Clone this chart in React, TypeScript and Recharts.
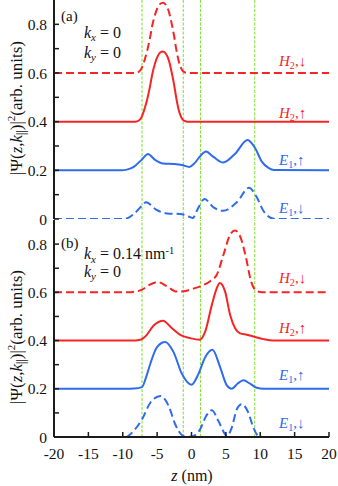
import React from 'react';
import { LineChart, Line, XAxis, YAxis, ReferenceLine } from 'recharts';

// ---------- data ----------
const xTicks = [-20, -15, -10, -5, 0, 5, 10, 15, 20];
const yTicks = [0, 0.1, 0.2, 0.3, 0.4, 0.5, 0.6, 0.7, 0.8];
const barrierLines = [-7.2, -1.2, 1.3, 9.2];

// panel (a): kx = 0, ky = 0
const zA_H2 = [-20, -8.2, -7.6, -7.16, -6.8, -6.43, -6.0, -5.7, -5.3, -4.98, -4.6, -4.15, -3.7, -3.28, -2.9, -2.55, -2.2, -1.83, -1.55, -1.35, -1.0, -0.6, 20];
const vA_H2dn = [0.6, 0.6, 0.606, 0.625, 0.655, 0.693, 0.75, 0.796, 0.84, 0.865, 0.883, 0.889, 0.879, 0.851, 0.805, 0.755, 0.695, 0.645, 0.622, 0.611, 0.603, 0.6, 0.6];
const vA_H2up = [0.4, 0.4, 0.406, 0.425, 0.455, 0.493, 0.55, 0.596, 0.64, 0.665, 0.683, 0.688, 0.678, 0.651, 0.605, 0.555, 0.495, 0.445, 0.422, 0.411, 0.403, 0.4, 0.4];
const zA_E1up = [-20, -10.2, -9.4, -8.4, -7.2, -6.33, -5.3, -4.1, -2.6, -1.4, -0.3, 0.4, 1.26, 2.1, 3.2, 4.6, 6.34, 8.15, 9.25, 10.2, 11.2, 12, 20];
const vA_E1up = [0.2, 0.2, 0.203, 0.214, 0.245, 0.267, 0.243, 0.228, 0.226, 0.222, 0.214, 0.228, 0.258, 0.277, 0.255, 0.232, 0.268, 0.325, 0.292, 0.237, 0.21, 0.201, 0.2];
const zA_E1dn = [-20, -9.8, -9.0, -8.4, -7.2, -6.6, -5.27, -3.57, -1.64, -0.43, 0.2, 0.78, 1.9, 3.2, 4.6, 6.6, 8.35, 9.5, 10.45, 11.5, 12.3, 20];
const vA_E1dn = [0, 0, 0.008, 0.02, 0.055, 0.069, 0.041, 0.023, 0.021, 0.01, 0.004, 0.034, 0.082, 0.048, 0.034, 0.069, 0.128, 0.089, 0.034, 0.005, 0, 0];

// panel (b): kx = 0.14 nm^-1, ky = 0
const zB_H2dn = [-20, -9.4, -8.17, -7.2, -6.24, -4.93, -3.57, -2.12, -1.16, 0.06, 1.26, 2.71, 3.68, 4.65, 5.62, 6.34, 7.17, 7.94, 8.66, 9.25, 10.2, 20];
const vB_H2dn = [0.6, 0.6, 0.603, 0.611, 0.629, 0.643, 0.625, 0.603, 0.604, 0.614, 0.625, 0.646, 0.673, 0.756, 0.839, 0.856, 0.825, 0.742, 0.646, 0.611, 0.6, 0.6];
const zB_H2up = [-20, -8.2, -7.45, -6.72, -5.5, -4.15, -2.85, -1.64, -0.19, 1.16, 1.99, 2.96, 3.68, 4.1, 4.89, 5.62, 6.34, 7.07, 8.04, 9.0, 10.45, 11.9, 20];
const vB_H2up = [0.4, 0.4, 0.403, 0.417, 0.462, 0.482, 0.451, 0.424, 0.41, 0.403, 0.437, 0.548, 0.617, 0.639, 0.603, 0.506, 0.451, 0.43, 0.424, 0.417, 0.406, 0.4, 0.4];
const zB_E1up = [-20, -9.5, -8.42, -7.2, -6.6, -5.99, -5.02, -3.82, -2.61, -1.4, 0.0, 1.02, 1.99, 3.05, 4.16, 5.14, 5.86, 6.68, 7.55, 8.52, 9.49, 10.5, 20];
const vB_E1up = [0.2, 0.2, 0.201, 0.207, 0.248, 0.304, 0.373, 0.394, 0.352, 0.262, 0.217, 0.262, 0.331, 0.362, 0.29, 0.214, 0.2, 0.221, 0.235, 0.221, 0.204, 0.2, 0.2];
const zB_E1dn = [-20, -9.6, -8.42, -7.2, -5.99, -4.5, -3.33, -2.37, -1.4, -0.67, 0.29, 1.26, 2.13, 2.96, 3.92, 4.89, 5.14, 5.86, 6.59, 7.31, 8.27, 9.0, 9.73, 10.4, 20];
const vB_E1dn = [0, 0, 0.025, 0.073, 0.142, 0.17, 0.129, 0.053, 0.008, 0, 0.004, 0.032, 0.087, 0.111, 0.066, 0.011, 0.003, 0.039, 0.115, 0.136, 0.101, 0.039, 0.004, 0, 0];

const toPts = (zs: number[], vs: number[]) => zs.map((z, i) => ({ z, v: vs[i] }));

// ---------- style ----------
const RED = '#f52525';
const BLUE = '#2f6cec';
const GREEN = '#7fdd2f';
const FRAME = '#1c1c1c';
const SERIF = '"Liberation Serif", "Times New Roman", Times, serif';
const W = 338;

const fmtY = (v: number) => {
  const r = Math.round(v * 10);
  if (r % 2 !== 0) return '';
  return r === 0 ? '0' : v.toFixed(1);
};

const tickFont = { fontFamily: SERIF, fontSize: 15.5, fill: '#111' };

type Series = { pts: { z: number; v: number }[]; color: string; dashed: boolean };

function Panel({ series, height, margin, showX }: { series: Series[]; height: number; margin: any; showX: boolean }) {
  return (
    <LineChart width={W} height={height} margin={margin} style={{ fontFamily: SERIF }}>
      <XAxis
        xAxisId={0}
        dataKey="z"
        type="number"
        domain={[-20, 20]}
        ticks={xTicks}
        allowDataOverflow
        height={showX ? 30 : 0}
        axisLine={{ stroke: FRAME, strokeWidth: 2 }}
        tickLine={{ stroke: FRAME, strokeWidth: 1.5 }}
        tickSize={-5}
        tickMargin={showX ? 16 : 0}
        tick={showX ? tickFont : false}
        interval={0}
      />
      <XAxis
        xAxisId="top"
        orientation="top"
        dataKey="z"
        type="number"
        domain={[-20, 20]}
        ticks={xTicks}
        height={0}
        axisLine={{ stroke: FRAME, strokeWidth: 2 }}
        tickLine={{ stroke: FRAME, strokeWidth: 1.5 }}
        tickSize={-5}
        tick={false}
        interval={0}
      />
      <YAxis
        yAxisId={0}
        type="number"
        domain={[0, 0.9]}
        ticks={yTicks}
        allowDataOverflow
        width={54}
        axisLine={{ stroke: FRAME, strokeWidth: 2 }}
        tickLine={{ stroke: FRAME, strokeWidth: 1.5 }}
        tickSize={-5}
        tickMargin={12}
        tickFormatter={fmtY}
        tick={tickFont}
        interval={0}
      />
      <YAxis
        yAxisId="right"
        orientation="right"
        type="number"
        domain={[0, 0.9]}
        ticks={yTicks}
        width={0}
        axisLine={{ stroke: FRAME, strokeWidth: 2 }}
        tickLine={{ stroke: FRAME, strokeWidth: 1.5 }}
        tickSize={-5}
        tick={false}
        interval={0}
      />
      {barrierLines.map((x) => (
        <ReferenceLine key={x} x={x} xAxisId={0} yAxisId={0} stroke={GREEN} strokeWidth={1} strokeDasharray="3 1.5" />
      ))}
      {series.map((s, i) => (
        <Line
          key={i}
          data={s.pts}
          dataKey="v"
          xAxisId={0}
          yAxisId={0}
          type="monotone"
          stroke={s.color}
          strokeWidth={2}
          strokeDasharray={s.dashed ? '8 4' : undefined}
          dot={false}
          activeDot={false}
          isAnimationActive={false}
        />
      ))}
    </LineChart>
  );
}

const abs = (left: number, top: number, extra: any = {}) => ({
  position: 'absolute' as const,
  left,
  top,
  fontFamily: SERIF,
  lineHeight: 1,
  whiteSpace: 'nowrap' as const,
  transform: 'translateY(-50%)',
  ...extra,
});

const subS = { fontSize: '0.68em', verticalAlign: '-0.3em' };
const supS = { fontSize: '0.65em', verticalAlign: '0.55em' };

function SLabel({ x, y, letter, n, arrow, color }: any) {
  return (
    <div style={abs(x, y, { fontSize: 15, color })}>
      <i>{letter}</i>
      <span style={subS}>{n}</span>,{arrow}
    </div>
  );
}

function KLabel({ x, y, axis, value }: any) {
  return (
    <div style={abs(x, y, { fontSize: 16, color: '#111' })}>
      <i>k</i>
      <i style={subS}>{axis}</i> = {value}
    </div>
  );
}

function YTitle({ cy }: { cy: number }) {
  return (
    <div
      style={{
        position: 'absolute',
        left: 16.5,
        top: cy,
        fontFamily: SERIF,
        fontSize: 17,
        lineHeight: 1,
        whiteSpace: 'nowrap',
        color: '#111',
        transform: 'translate(-50%, -50%) rotate(-90deg)',
      }}
    >
      |Ψ(<i>z</i>,<i>k</i>
      <span style={subS}>||</span>)|<span style={supS}>2</span>(arb. units)
    </div>
  );
}

export default function App() {
  const seriesA: Series[] = [
    { pts: toPts(zA_H2, vA_H2dn), color: RED, dashed: true },
    { pts: toPts(zA_H2, vA_H2up), color: RED, dashed: false },
    { pts: toPts(zA_E1up, vA_E1up), color: BLUE, dashed: false },
    { pts: toPts(zA_E1dn, vA_E1dn), color: BLUE, dashed: true },
  ];
  const seriesB: Series[] = [
    { pts: toPts(zB_H2dn, vB_H2dn), color: RED, dashed: true },
    { pts: toPts(zB_H2up, vB_H2up), color: RED, dashed: false },
    { pts: toPts(zB_E1up, vB_E1up), color: BLUE, dashed: false },
    { pts: toPts(zB_E1dn, vB_E1dn), color: BLUE, dashed: true },
  ];
  return (
    <div style={{ position: 'absolute', left: 0, top: 0, width: W, height: 486, background: '#fff', overflow: 'hidden' }}>
      <div style={{ position: 'absolute', left: 0, top: 219 }}>
        <Panel series={seriesB} height={267} margin={{ top: 1, right: 9, bottom: 19, left: 0 }} showX={true} />
      </div>
      <div style={{ position: 'absolute', left: 0, top: 0 }}>
        <Panel series={seriesA} height={230} margin={{ top: 0, right: 9, bottom: 11, left: 0 }} showX={false} />
      </div>

      {/* panel annotations */}
      <div style={abs(61, 16, { fontSize: 15, color: '#111' })}>(a)</div>
      <KLabel x={84} y={34} axis="x" value="0" />
      <KLabel x={84} y={54} axis="y" value="0" />
      <div style={abs(61, 243, { fontSize: 15, color: '#111' })}>(b)</div>
      <KLabel x={84} y={255} axis="x" value={<>0.14 nm<span style={supS}>-1</span></>} />
      <KLabel x={84} y={273} axis="y" value="0" />

      {/* series labels */}
      <SLabel x={279} y={63} letter="H" n="2" arrow="↓" color={RED} />
      <SLabel x={279} y={115} letter="H" n="2" arrow="↑" color={RED} />
      <SLabel x={279} y={162} letter="E" n="1" arrow="↑" color={BLUE} />
      <SLabel x={279} y={210} letter="E" n="1" arrow="↓" color={BLUE} />
      <SLabel x={279} y={280} letter="H" n="2" arrow="↓" color={RED} />
      <SLabel x={279} y={330} letter="H" n="2" arrow="↑" color={RED} />
      <SLabel x={279} y={377} letter="E" n="1" arrow="↑" color={BLUE} />
      <SLabel x={279} y={425} letter="E" n="1" arrow="↓" color={BLUE} />

      {/* axis titles */}
      <YTitle cy={108} />
      <YTitle cy={337} />
      <div style={{ ...abs(192, 476, { fontSize: 16, color: '#111' }), transform: 'translate(-50%, -50%)' }}>
        <i>z</i> (nm)
      </div>
    </div>
  );
}
